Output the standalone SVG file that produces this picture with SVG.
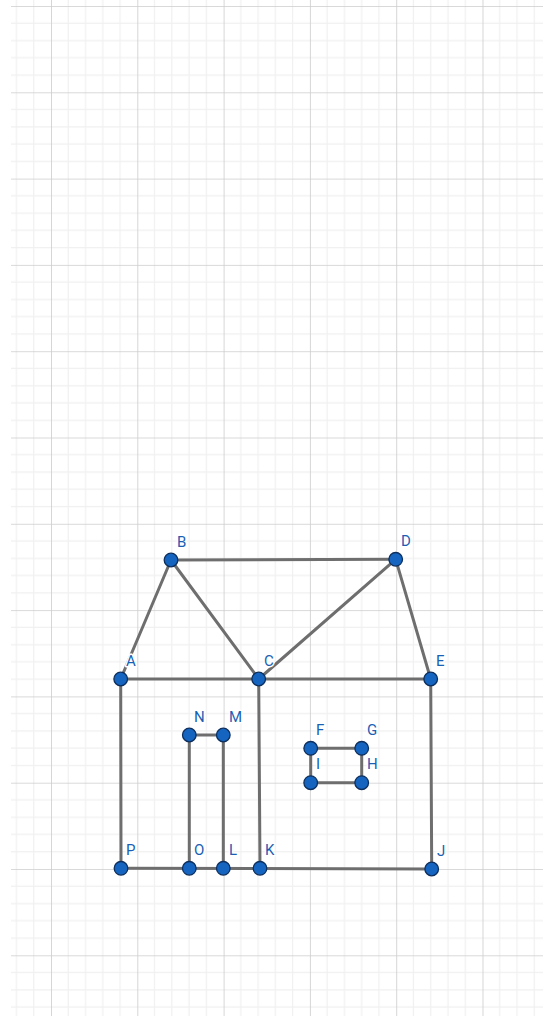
<svg xmlns="http://www.w3.org/2000/svg" width="543" height="1016" viewBox="0 0 543 1016">
<style>
.seg{stroke:#6e6e6e;stroke-width:3;stroke-linecap:round;fill:none}
.pt{fill:#1565c0;stroke:#0d2f5e;stroke-width:1.3}
.lbl{font-family:Roboto,"Liberation Sans",sans-serif;font-size:15px;fill:#1a5fb4;stroke:#fff;stroke-width:3;paint-order:stroke;stroke-linejoin:round}
</style>
<defs>
<pattern id="grid" patternUnits="userSpaceOnUse" x="51" y="6" width="86.3" height="86.3">
<g stroke="#f0f0f0" stroke-width="1.2">
<line x1="17.26" y1="0" x2="17.26" y2="86.3"/>
<line x1="34.52" y1="0" x2="34.52" y2="86.3"/>
<line x1="51.78" y1="0" x2="51.78" y2="86.3"/>
<line x1="69.04" y1="0" x2="69.04" y2="86.3"/>
<line y1="17.26" x1="0" y2="17.26" x2="86.3"/>
<line y1="34.52" x1="0" y2="34.52" x2="86.3"/>
<line y1="51.78" x1="0" y2="51.78" x2="86.3"/>
<line y1="69.04" x1="0" y2="69.04" x2="86.3"/>
</g>
<g stroke="#cccccc" stroke-width="1.6">
<line x1="0" y1="0" x2="0" y2="86.3"/>
<line x1="0" y1="0" x2="86.3" y2="0"/>
</g>
</pattern>
</defs>
<rect width="543" height="1016" fill="#fff"/>
<rect x="11" y="0" width="532" height="1016" fill="url(#grid)"/>
<g id="connectors">
<line class="seg" x1="120.7" y1="679" x2="171" y2="560"/>
<line class="seg" x1="171" y1="560" x2="395.7" y2="559.3"/>
<line class="seg" x1="171" y1="560" x2="258.7" y2="679"/>
<line class="seg" x1="258.7" y1="679" x2="395.7" y2="559.3"/>
<line class="seg" x1="395.7" y1="559.3" x2="430.7" y2="679"/>
<line class="seg" x1="120.7" y1="679" x2="430.7" y2="679"/>
<line class="seg" x1="120.7" y1="679" x2="121" y2="868.3"/>
<line class="seg" x1="258.7" y1="679" x2="260" y2="868.3"/>
<line class="seg" x1="430.7" y1="679" x2="431.7" y2="869"/>
<line class="seg" x1="121" y1="868.3" x2="431.7" y2="869"/>
<line class="seg" x1="189.3" y1="735" x2="223.3" y2="735"/>
<line class="seg" x1="189.3" y1="735" x2="189.3" y2="868.3"/>
<line class="seg" x1="223.3" y1="735" x2="223.3" y2="868.3"/>
<line class="seg" x1="310.7" y1="748.3" x2="361.7" y2="748.3"/>
<line class="seg" x1="361.7" y1="748.3" x2="361.7" y2="782.7"/>
<line class="seg" x1="361.7" y1="782.7" x2="310.7" y2="782.7"/>
<line class="seg" x1="310.7" y1="782.7" x2="310.7" y2="748.3"/>
</g>
<g id="node-A"><circle class="pt" cx="120.7" cy="679" r="6.8"/><text class="lbl" x="126" y="666">A</text></g>
<g id="node-B"><circle class="pt" cx="171" cy="560" r="6.8"/><text class="lbl" x="177" y="547">B</text></g>
<g id="node-C"><circle class="pt" cx="258.7" cy="679" r="6.8"/><text class="lbl" x="264" y="666">C</text></g>
<g id="node-D"><circle class="pt" cx="395.7" cy="559.3" r="6.8"/><text class="lbl" x="401" y="546">D</text></g>
<g id="node-E"><circle class="pt" cx="430.7" cy="679" r="6.8"/><text class="lbl" x="436" y="666">E</text></g>
<g id="node-F"><circle class="pt" cx="310.7" cy="748.3" r="6.8"/><text class="lbl" x="316" y="735">F</text></g>
<g id="node-G"><circle class="pt" cx="361.7" cy="748.3" r="6.8"/><text class="lbl" x="367" y="735">G</text></g>
<g id="node-H"><circle class="pt" cx="361.7" cy="782.7" r="6.8"/><text class="lbl" x="367" y="769">H</text></g>
<g id="node-I"><circle class="pt" cx="310.7" cy="782.7" r="6.8"/><text class="lbl" x="316" y="769">I</text></g>
<g id="node-J"><circle class="pt" cx="431.7" cy="869" r="6.8"/><text class="lbl" x="437" y="856">J</text></g>
<g id="node-K"><circle class="pt" cx="260" cy="868.3" r="6.8"/><text class="lbl" x="265" y="855">K</text></g>
<g id="node-L"><circle class="pt" cx="223.3" cy="868.3" r="6.8"/><text class="lbl" x="229" y="855">L</text></g>
<g id="node-M"><circle class="pt" cx="223.3" cy="735" r="6.8"/><text class="lbl" x="229" y="722">M</text></g>
<g id="node-N"><circle class="pt" cx="189.3" cy="735" r="6.8"/><text class="lbl" x="194" y="722">N</text></g>
<g id="node-O"><circle class="pt" cx="189.3" cy="868.3" r="6.8"/><text class="lbl" x="194" y="855">O</text></g>
<g id="node-P"><circle class="pt" cx="121" cy="868.3" r="6.8"/><text class="lbl" x="126" y="855">P</text></g>
</svg>
